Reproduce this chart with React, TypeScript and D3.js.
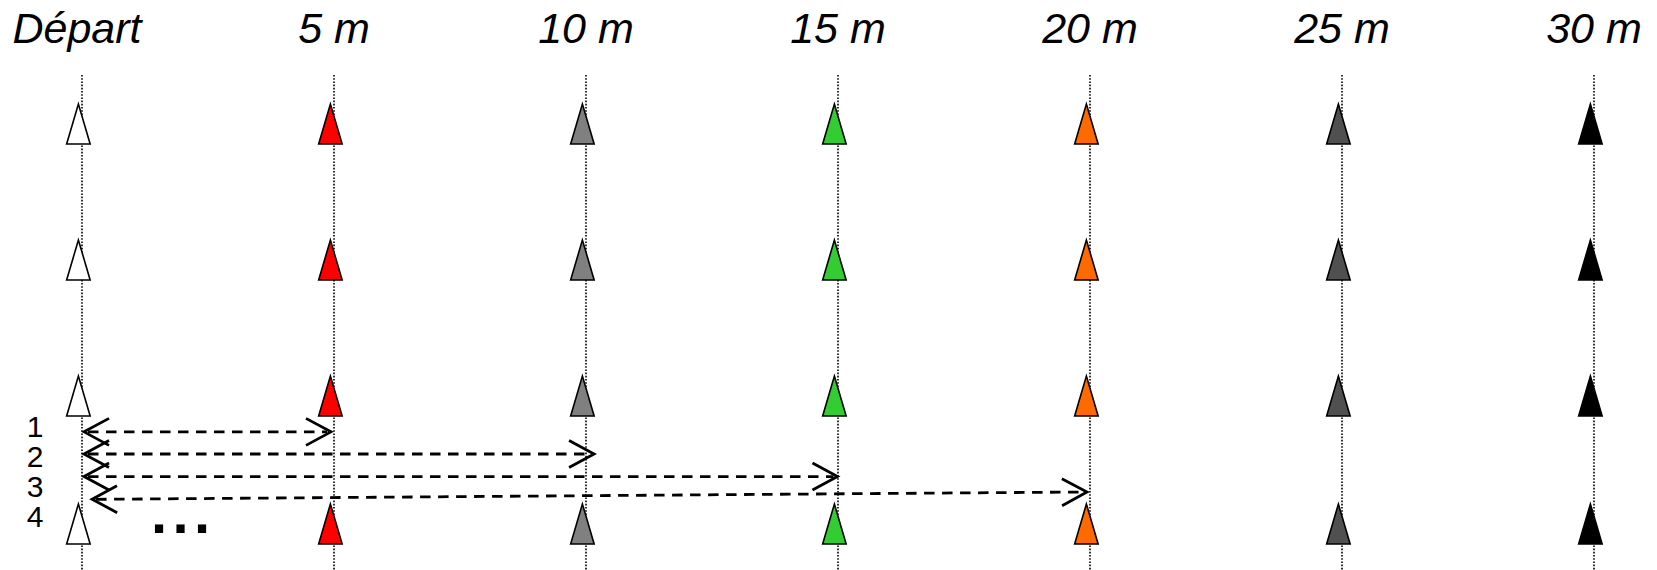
import React from "react";
import * as d3 from "d3";

// ---- data ----
const distances = [0, 5, 10, 15, 20, 25, 30]; // metres
const distanceLabels = ["Départ", "5 m", "10 m", "15 m", "20 m", "25 m", "30 m"];
const coneColors = ["#ffffff", "#ff0000", "#808080", "#33cc33", "#ff6a00", "#505050", "#000000"];
const lanes = [0, 1.02, 2.04, 3]; // rows of cones (lane units)

const repLabels = ["1", "2", "3", "4"];
const repStart = [0.04, 0.04, 0.04, 0.2]; // metres (arrow left tip)
const repEnd = [4.94, 10.16, 14.99, 19.94]; // metres (arrow right tip)
const repLaneStart = [2.159, 2.325, 2.494, 2.665];
const repLaneEnd = [2.159, 2.325, 2.494, 2.61];

const W = 1657;
const H = 570;

export default function App() {
  const x = d3.scaleLinear().domain([0, 30]).range([82, 1594]);
  const y = d3.scaleLinear().domain([0, 3]).range([144, 544]);

  const triW = 23.5;
  const triH = 40;
  const triDx = -3.6;
  const font = "'Liberation Sans', Arial, sans-serif";

  const tri = (cx: number, by: number) => {
    const p = d3.path();
    p.moveTo(cx - triW / 2, by);
    p.lineTo(cx, by - triH);
    p.lineTo(cx + triW / 2, by);
    p.closePath();
    return p.toString();
  };

  const headLen = 25;
  const headHalf = 13.5;

  return (
    <svg
      width={W}
      height={H}
      viewBox={`0 0 ${W} ${H}`}
      style={{ position: "absolute", left: 0, top: 0, background: "#fff" }}
    >
      {/* distance labels */}
      {distances.map((d, i) => (
        <text
          key={"l" + i}
          x={x(d) - (i === 0 ? 5 : 0)}
          y={43}
          textAnchor="middle"
          fontFamily={font}
          fontStyle="italic"
          fontSize={43}
          fill="#000"
        >
          {distanceLabels[i]}
        </text>
      ))}

      {/* dotted vertical lines */}
      {distances.map((d, i) => (
        <line
          key={"v" + i}
          x1={x(d)}
          x2={x(d)}
          y1={75}
          y2={H}
          stroke="#000"
          strokeWidth={1.6}
          strokeDasharray="1.6,1.6"
        />
      ))}

      {/* cones */}
      {lanes.map((ln, r) =>
        distances.map((d, i) => (
          <path
            key={"t" + r + "-" + i}
            d={tri(x(d) + triDx, y(ln))}
            fill={coneColors[i]}
            stroke="#000"
            strokeWidth={1.6}
            strokeLinejoin="miter"
          />
        ))
      )}

      {/* repetition arrows */}
      {repLabels.map((lab, i) => {
        const x1 = x(repStart[i]);
        const x2 = x(repEnd[i]);
        const y1 = y(repLaneStart[i]);
        const y2 = y(repLaneEnd[i]);
        const ang = Math.atan2(y2 - y1, x2 - x1);
        const c = Math.cos(ang);
        const s = Math.sin(ang);
        const head = (tx: number, ty: number, dir: number) => {
          const p = d3.path();
          const bx = -dir * headLen;
          p.moveTo(tx + bx * c - headHalf * -s, ty + bx * s - headHalf * c);
          p.lineTo(tx, ty);
          p.lineTo(tx + bx * c + headHalf * -s, ty + bx * s + headHalf * c);
          return p.toString();
        };
        return (
          <g key={"a" + i}>
            <line
              x1={x1 + 4}
              y1={y1}
              x2={x2 - 4}
              y2={y2}
              stroke="#000"
              strokeWidth={2.8}
              strokeDasharray="10.5,7.5"
            />
            <path d={head(x1, y1, -1)} fill="none" stroke="#000" strokeWidth={2.8} />
            <path d={head(x2, y2, 1)} fill="none" stroke="#000" strokeWidth={2.8} />
          </g>
        );
      })}

      {/* repetition numbers */}
      {repLabels.map((lab, i) => (
        <text
          key={"n" + i}
          x={35}
          y={437 + 30 * i}
          textAnchor="middle"
          fontFamily={font}
          fontSize={30}
          fill="#000"
        >
          {lab}
        </text>
      ))}

      {/* ellipsis */}
      <text
        x={151}
        y={533}
        fontFamily={font}
        fontWeight="bold"
        fontSize={58}
        letterSpacing={5.4}
        fill="#000"
      >
        ...
      </text>
    </svg>
  );
}
